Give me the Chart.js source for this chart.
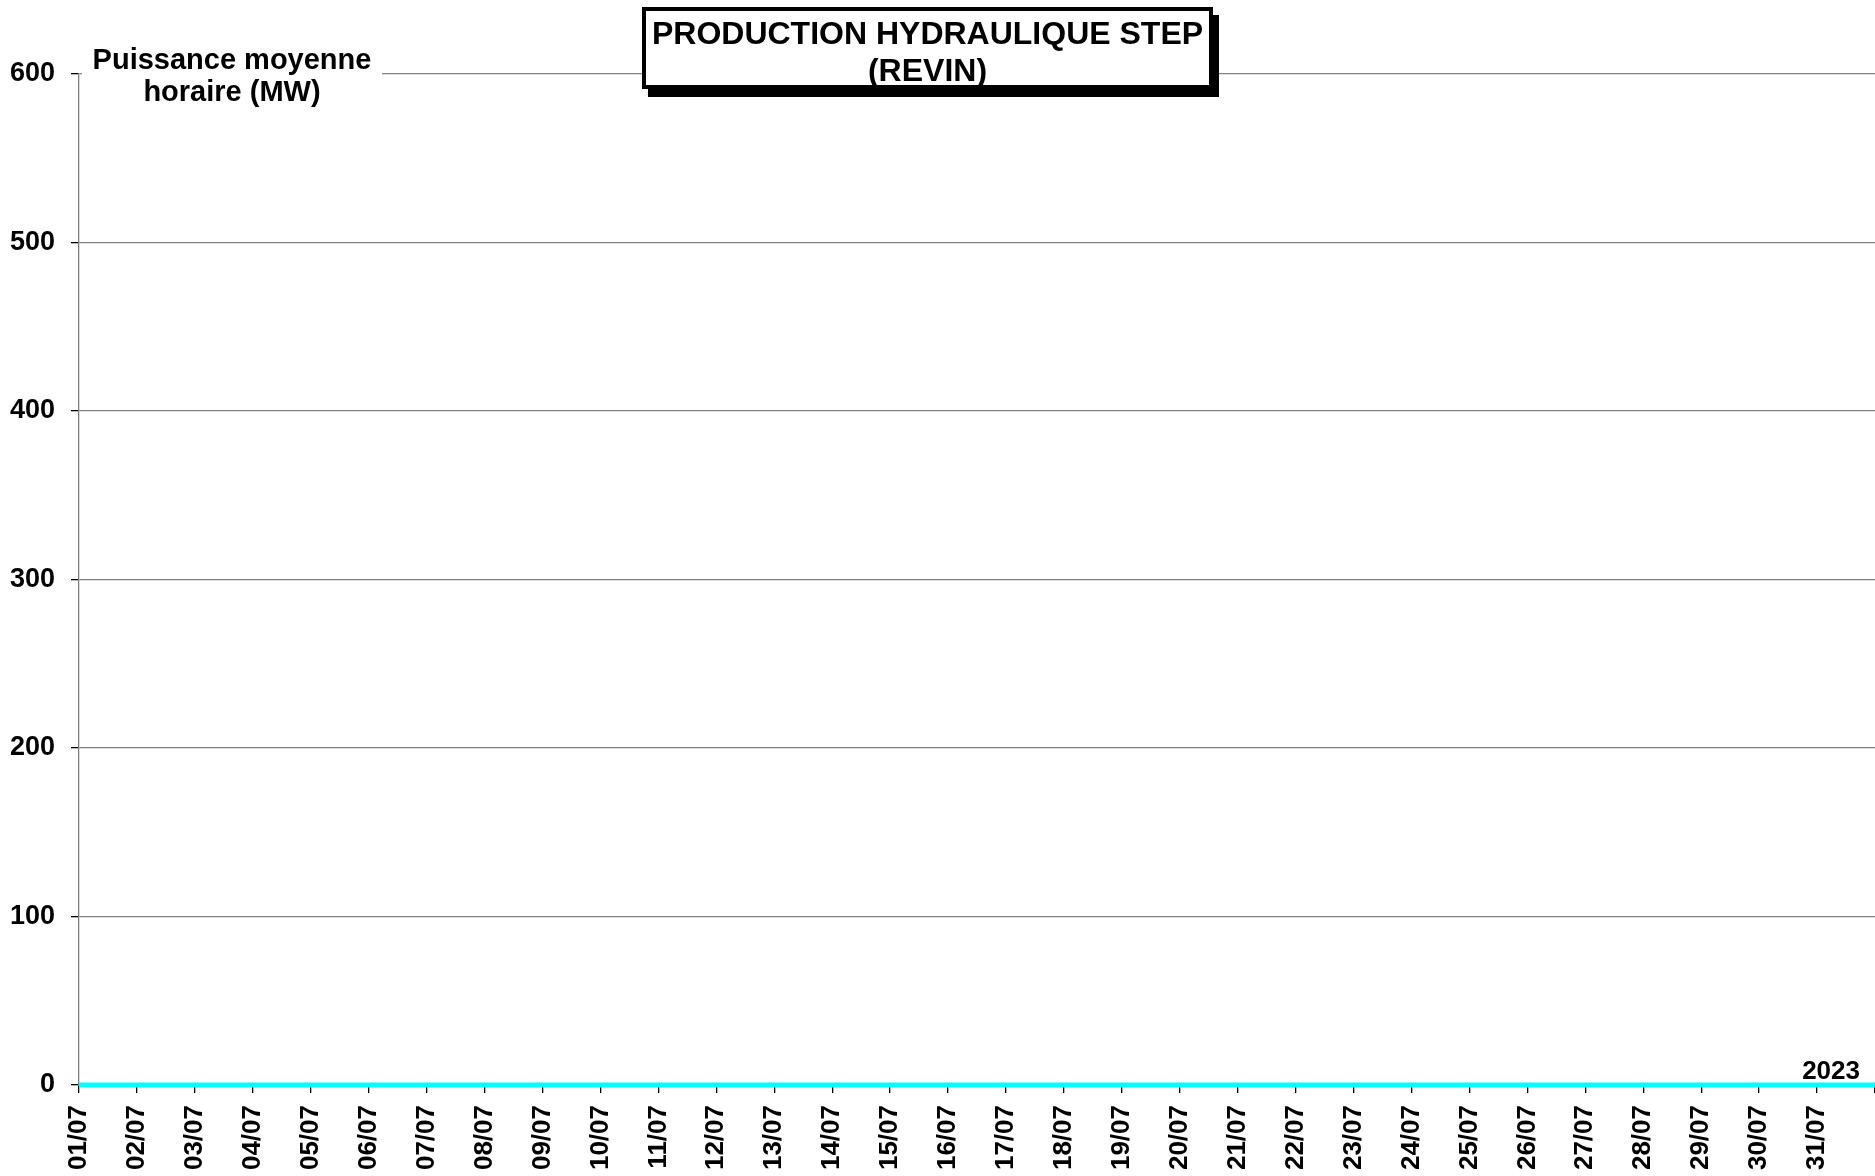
<!DOCTYPE html>
<html>
<head>
<meta charset="utf-8">
<script src="https://cdn.jsdelivr.net/npm/chart.js@4.4.0/dist/chart.umd.min.js"></script>
<style>
  html, body { margin: 0; padding: 0; background: #fff; }
  canvas { display: block; }
</style>
</head>
<body>
<canvas id="stepChart" width="1875" height="1176" style="width:1875px;height:1176px"></canvas>
<script>
// Jours de juillet (graduations de l'axe X)
const dayLabels = ['01/07', '02/07', '03/07', '04/07', '05/07', '06/07', '07/07', '08/07',
  '09/07', '10/07', '11/07', '12/07', '13/07', '14/07', '15/07', '16/07', '17/07', '18/07',
  '19/07', '20/07', '21/07', '22/07', '23/07', '24/07', '25/07', '26/07', '27/07', '28/07',
  '29/07', '30/07', '31/07'];
// Position des points (jour depuis le 01/07 00h, jusqu'au 01/08 00h)
const dayIndex = [0, 1, 2, 3, 4, 5, 6, 7, 8, 9, 10, 11, 12, 13, 14, 15,
  16, 17, 18, 19, 20, 21, 22, 23, 24, 25, 26, 27, 28, 29, 30, 31];
// Puissance moyenne horaire 2023 (MW) - aucune production sur le mois
const prod2023 = [0, 0, 0, 0, 0, 0, 0, 0, 0, 0, 0, 0, 0, 0, 0, 0,
  0, 0, 0, 0, 0, 0, 0, 0, 0, 0, 0, 0, 0, 0, 0, 0];
const yTicks = [0, 100, 200, 300, 400, 500, 600];
const seriesName = '2023';
const titleLines = ['PRODUCTION HYDRAULIQUE STEP', '(REVIN)'];
const axisTitleLines = ['Puissance moyenne', 'horaire (MW)'];

const FONT = "'Liberation Sans', Arial, sans-serif";

// Titre encadré, titre d'axe et nom de la série
const decorations = {
  id: 'decorations',
  afterDraw(chart) {
    const ctx = chart.ctx;
    const x = chart.scales.x;
    const y = chart.scales.y;
    ctx.save();

    // titre de l'axe Y sur fond blanc
    ctx.fillStyle = '#fff';
    ctx.fillRect(82, 40, 300, 70);
    ctx.fillStyle = '#000';
    ctx.font = 'bold 29px ' + FONT;
    ctx.textAlign = 'center';
    ctx.textBaseline = 'alphabetic';
    ctx.fillText(axisTitleLines[0], 232, 69);
    ctx.fillText(axisTitleLines[1], 232, 101);

    // cadre du titre avec ombre
    const bx = 642, by = 7, bw = 571, bh = 82;
    ctx.fillStyle = '#000';
    ctx.fillRect(bx + 6, by + 8, bw, bh);
    ctx.fillStyle = '#fff';
    ctx.fillRect(bx, by, bw, bh);
    ctx.lineWidth = 4;
    ctx.strokeStyle = '#000';
    ctx.strokeRect(bx + 2, by + 2, bw - 4, bh - 4);
    ctx.fillStyle = '#000';
    ctx.font = 'bold 32px ' + FONT;
    ctx.fillText(titleLines[0], bx + bw / 2, 44);
    ctx.fillText(titleLines[1], bx + bw / 2, 81);

    // étiquette de la série en fin de courbe
    const last = dayIndex.length - 1;
    ctx.font = 'bold 26px ' + FONT;
    ctx.textAlign = 'right';
    ctx.fillText(seriesName, x.getPixelForValue(dayIndex[last]) - 15,
      y.getPixelForValue(prod2023[last]) - 6);
    ctx.restore();
  }
};

window.onload = function () {
  const ctx = document.getElementById('stepChart').getContext('2d');
  new Chart(ctx, {
    type: 'line',
    data: {
      datasets: [{
        label: seriesName,
        data: dayIndex.map((d, i) => ({ x: d, y: prod2023[i] })),
        borderColor: '#00FFFF',
        backgroundColor: '#00FFFF',
        borderWidth: 5,
        pointRadius: 0,
        tension: 0,
        clip: false
      }]
    },
    options: {
      responsive: false,
      animation: false,
      devicePixelRatio: 1,
      layout: { padding: { top: 74, right: 0, left: 0, bottom: 0 } },
      plugins: {
        legend: { display: false },
        tooltip: { enabled: false }
      },
      scales: {
        x: {
          type: 'linear',
          min: 0,
          max: 31,
          afterBuildTicks(scale) {
            scale.ticks = dayIndex.map(v => ({ value: v }));
          },
          ticks: {
            autoSkip: false,
            minRotation: 90,
            maxRotation: 90,
            padding: 12,
            color: '#000',
            font: { family: FONT, size: 26, weight: 'bold' },
            callback: (v) => dayLabels[v] || ''
          },
          grid: {
            drawOnChartArea: false,
            tickLength: 8,
            tickColor: '#000',
            lineWidth: 1.3
          },
          border: { color: '#808080', width: 1.3 },
          afterFit(scale) {
            scale.height = 91;
            scale.paddingLeft = 0;
            scale.paddingRight = 0;
          }
        },
        y: {
          min: 0,
          max: 600,
          afterBuildTicks(scale) {
            scale.ticks = yTicks.map(v => ({ value: v }));
          },
          ticks: {
            padding: 16,
            color: '#000',
            font: { family: FONT, size: 27, weight: 'bold' }
          },
          grid: {
            color: '#808080',
            lineWidth: 1.3,
            tickLength: 8,
            tickColor: '#000'
          },
          border: { color: '#808080', width: 1.3 },
          afterFit(scale) {
            scale.width = 79;
            scale.paddingTop = 0;
            scale.paddingBottom = 0;
          }
        }
      }
    },
    plugins: [decorations]
  });
};
</script>
</body>
</html>
